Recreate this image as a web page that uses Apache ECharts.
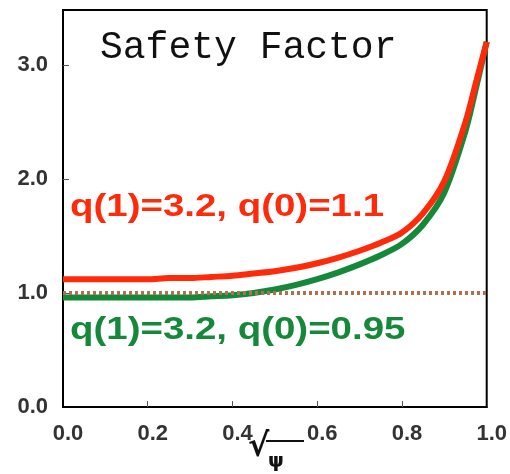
<!DOCTYPE html>
<html><head><meta charset="utf-8">
<script src="https://cdn.jsdelivr.net/npm/echarts@6/dist/echarts.min.js"></script>
<style>html,body{margin:0;padding:0;background:#fff}#c{width:510px;height:474px}</style>
</head><body><div id="c"></div>
<script>
var xVals = [0, 0.05, 0.1, 0.15, 0.2, 0.25, 0.3, 0.35, 0.4, 0.45, 0.5, 0.55, 0.6, 0.65, 0.7, 0.75, 0.8, 0.85, 0.9, 0.95, 0.975, 1.0];
var redVals = [1.12, 1.12, 1.12, 1.12, 1.12, 1.13, 1.13, 1.14, 1.15, 1.17, 1.19, 1.22, 1.26, 1.31, 1.37, 1.44, 1.53, 1.7, 1.98, 2.5, 2.85, 3.2];
var greenVals = [0.96, 0.96, 0.96, 0.96, 0.96, 0.96, 0.96, 0.97, 0.98, 1.0, 1.03, 1.07, 1.12, 1.18, 1.25, 1.33, 1.43, 1.6, 1.88, 2.42, 2.8, 3.2];
var refVals = [1.0, 1.0];
var refX = [0, 1];
var xTicks = [0, 0.2, 0.4, 0.6, 0.8, 1.0];
var yTicks = [0, 1, 2, 3];
var titleText = 'Safety Factor';
var redLabel = 'q(1)=3.2, q(0)=1.1';
var greenLabel = 'q(1)=3.2, q(0)=0.95';

function pairs(xs, ys) { return xs.map(function (x, i) { return [x, ys[i]]; }); }

var chart = echarts.init(document.getElementById('c'), null, {renderer: 'canvas'});
chart.setOption({
  animation: false,
  backgroundColor: '#fff',
  grid: {left: 63, right: 23, top: 10, bottom: 67, show: true, borderColor: '#000', borderWidth: 2, backgroundColor: 'transparent'},
  xAxis: {
    type: 'value', min: 0, max: 1, interval: 0.2,
    axisLine: {show: true, lineStyle: {color: '#000', width: 2}},
    axisTick: {show: true, inside: true, length: 6, customValues: xTicks.slice(1, 5), lineStyle: {color: '#555', width: 1}},
    axisLabel: {show: true, customValues: xTicks, margin: 16, padding: [0, 0, 0, 10], fontFamily: 'Liberation Sans', fontWeight: 'bold', fontSize: 22, color: '#333',
      formatter: function (v) { return v.toFixed(1); }},
    splitLine: {show: false}
  },
  yAxis: {
    type: 'value', min: 0, max: 3.48, interval: 1,
    axisLine: {show: true, lineStyle: {color: '#000', width: 2}},
    axisTick: {show: true, inside: true, length: 6, customValues: yTicks.slice(1), lineStyle: {color: '#555', width: 1}},
    axisLabel: {show: true, customValues: yTicks, margin: 15, fontFamily: 'Liberation Sans', fontWeight: 'bold', fontSize: 22, color: '#333',
      formatter: function (v) { return v.toFixed(1); }},
    splitLine: {show: false}
  },
  series: [
    {type: 'line', name: 'red', data: pairs(xVals, redVals), showSymbol: false, smooth: 0.3, z: 3,
      lineStyle: {color: '#ff2a0a', width: 6}},
    {type: 'line', name: 'green', data: pairs(xVals, greenVals), showSymbol: false, smooth: 0.3, z: 2,
      lineStyle: {color: '#15883a', width: 6}},
    {type: 'line', name: 'ref', data: pairs(refX, refVals), showSymbol: false, z: 4,
      lineStyle: {color: '#b07050', width: 4, type: [3, 3]}}
  ],
  graphic: [
    {type: 'text', x: 100, y: 48, style: {text: titleText, font: '38px "Liberation Mono"', fill: '#111', verticalAlign: 'middle', align: 'left'}},
    {type: 'text', x: 70, y: 207, scaleX: 1.24, style: {text: redLabel, font: 'bold 31px "Liberation Sans"', fill: '#ff2a0a', verticalAlign: 'middle', align: 'left'}},
    {type: 'text', x: 70, y: 330, scaleX: 1.24, style: {text: greenLabel, font: 'bold 31px "Liberation Sans"', fill: '#15883a', verticalAlign: 'middle', align: 'left'}},
    {type: 'text', x: 248, y: 448, style: {text: '√', font: 'bold 32px "DejaVu Sans"', fill: '#111', verticalAlign: 'middle', align: 'left'}},
    {type: 'text', x: 268, y: 462, style: {text: 'ψ', font: 'bold 20px "DejaVu Sans"', fill: '#111', verticalAlign: 'middle', align: 'left'}},
    {type: 'line', shape: {x1: 266, y1: 441, x2: 304, y2: 441}, style: {stroke: '#111', lineWidth: 2}}
  ]
});
</script></body></html>
